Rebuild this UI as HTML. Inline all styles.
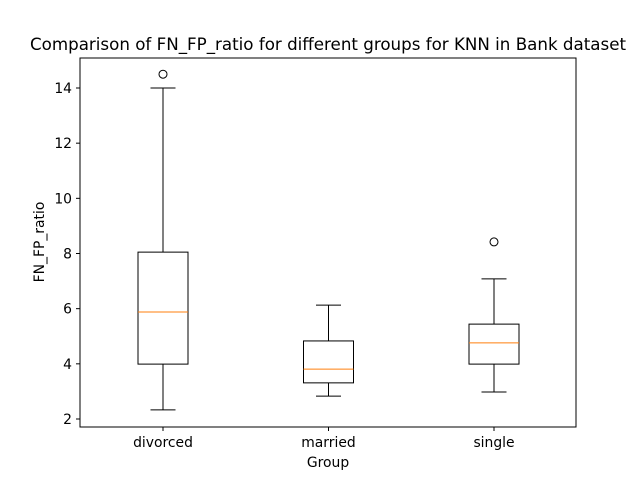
<!DOCTYPE html>
<html><head><meta charset="utf-8"><style>
body{margin:0;background:#fff;}
svg{display:block;font-family:"DejaVu Sans","Liberation Sans",sans-serif;}
</style></head><body>
<svg id="chart" width="640" height="480">
<rect width="640" height="480" fill="#fff"/>
<text x="328" y="50" text-anchor="middle" font-size="16.7">Comparison of FN_FP_ratio for different groups for KNN in Bank dataset</text>
<g id="marks"></g>
<rect x="80" y="58" width="496" height="369" fill="none" stroke="#000" stroke-width="1"/>
<text x="328" y="467" text-anchor="middle" font-size="13.9">Group</text>
<text transform="translate(44,242) rotate(-90)" text-anchor="middle" font-size="13.9">FN_FP_ratio</text>
</svg>
<script>
const categories=["divorced","married","single"];
const whiskerLow=[2.33,2.83,2.98];
const q1=[3.99,3.31,3.99];
const medians=[5.88,3.81,4.76];
const q3=[8.05,4.83,5.44];
const whiskerHigh=[14.0,6.13,7.08];
const outliers=[[14.5],[],[8.42]];
const yTicks=[2,4,6,8,10,12,14];
const y=v=>419-(v-2)*(331/12);
const x=i=>163+i*165.5;
const NS="http://www.w3.org/2000/svg";
const g=document.getElementById('marks');
function el(t,a){const e=document.createElementNS(NS,t);for(const k in a)e.setAttribute(k,a[k]);g.appendChild(e);return e;}
yTicks.forEach(t=>{
 const l=el('line',{x1:76,x2:80,y1:y(t),y2:y(t),stroke:'#000'});
 
 
 const tx=el('text',{x:72,y:y(t)+5,'text-anchor':'end','font-size':13.9});tx.textContent=t;
 
 
});
categories.forEach((c,i)=>{
 const cx=x(i);
 const tk=el('line',{x1:cx,x2:cx,y1:427,y2:431,stroke:'#000'});
 
 
 const tl=el('text',{x:cx,y:447,'text-anchor':'middle','font-size':13.9});tl.textContent=c;
 
 
 const w1=el('line',{x1:cx,x2:cx,y1:y(q1[i]),y2:y(whiskerLow[i]),stroke:'#000'});
 
 
 const w2=el('line',{x1:cx,x2:cx,y1:y(q3[i]),y2:y(whiskerHigh[i]),stroke:'#000'});
 
 
 [whiskerLow[i],whiskerHigh[i]].forEach(v=>{
  const cp=el('line',{x1:cx-12.5,x2:cx+12.5,y1:y(v),y2:y(v),stroke:'#000'});
  
  
 });
 const b=el('rect',{x:cx-25,y:y(q3[i]),width:50,height:y(q1[i])-y(q3[i]),fill:'none',stroke:'#000'});
 
 
 const m=el('line',{x1:cx-25,x2:cx+25,y1:y(medians[i]),y2:y(medians[i]),stroke:'#ff7f0e'});
 
 
 outliers[i].forEach(v=>{
  const o=el('circle',{cx:cx,cy:y(v),r:4,fill:'none',stroke:'#000'});
  
  
 });
});
</script>
</body></html>
